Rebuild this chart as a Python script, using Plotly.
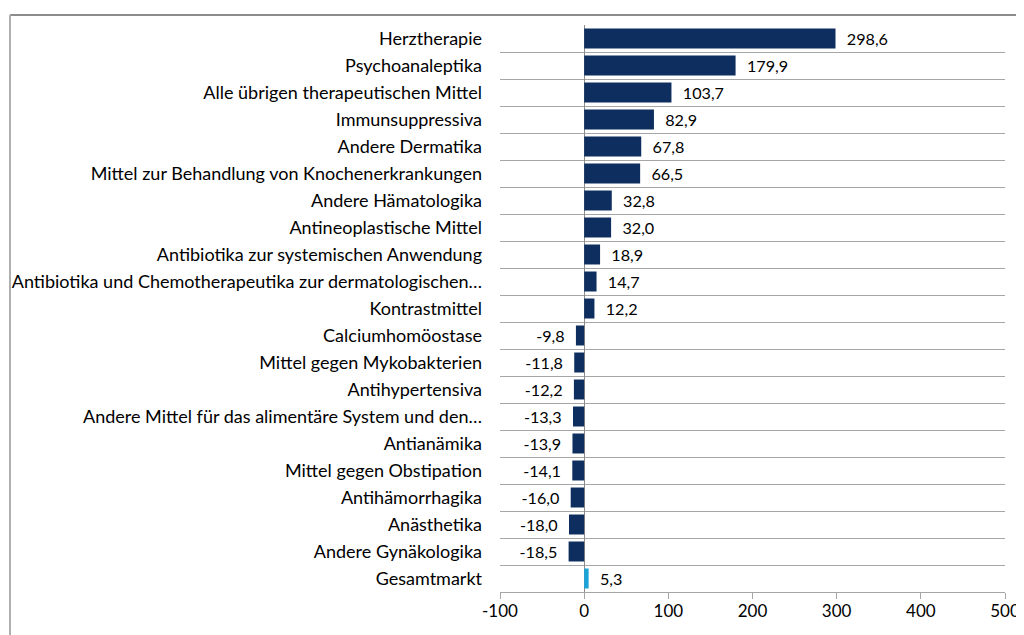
import plotly.graph_objects as go

categories = [
    "Herztherapie",
    "Psychoanaleptika",
    "Alle übrigen therapeutischen Mittel",
    "Immunsuppressiva",
    "Andere Dermatika",
    "Mittel zur Behandlung von Knochenerkrankungen",
    "Andere Hämatologika",
    "Antineoplastische Mittel",
    "Antibiotika zur systemischen Anwendung",
    "Antibiotika und Chemotherapeutika zur dermatologischen…",
    "Kontrastmittel",
    "Calciumhomöostase",
    "Mittel gegen Mykobakterien",
    "Antihypertensiva",
    "Andere Mittel für das alimentäre System und den…",
    "Antianämika",
    "Mittel gegen Obstipation",
    "Antihämorrhagika",
    "Anästhetika",
    "Andere Gynäkologika",
    "Gesamtmarkt",
]
values = [298.6, 179.9, 103.7, 82.9, 67.8, 66.5, 32.8, 32.0, 18.9, 14.7, 12.2,
          -9.8, -11.8, -12.2, -13.3, -13.9, -14.1, -16.0, -18.0, -18.5, 5.3]
x_ticks = [-100, 0, 100, 200, 300, 400, 500]
x_tick_labels = ["-100", "0", "100", "200", "300", "400", "500"]

NAVY = "#0D2E5E"
LIGHT = "#1AA3D6"
colors = [LIGHT if c == "Gesamtmarkt" else NAVY for c in categories]
NB = "\u00a0"
labels = [
    (NB * 2 + f"{v:.1f}".replace(".", ",")) if v >= 0
    else (f"{v:.1f}".replace(".", ",") + NB * 2)
    for v in values
]

FONT = "Lato"
FS = 17

fig = go.Figure(go.Bar(
    x=values, y=categories, orientation="h",
    marker=dict(color=colors, line=dict(width=0)),
    text=labels, textposition="outside", cliponaxis=False,
    textfont=dict(family=FONT, size=FS, color="#000000"),
))

fig.update_layout(
    width=1024, height=635,
    margin=dict(l=492, r=27, t=17, b=51, autoexpand=False),
    paper_bgcolor="white", plot_bgcolor="white",
    bargap=0.26, showlegend=False,
    font=dict(family=FONT, size=FS, color="#000000"),
    shapes=[
        dict(type="line", xref="paper", yref="paper",
             x0=-490/505, x1=1.1, y0=1 + 10/567, y1=1 + 10/567,
             line=dict(color="#8c8c8c", width=2)),
        dict(type="line", xref="paper", yref="paper",
             x0=-490/505, x1=-490/505, y0=-0.2, y1=1 + 10/567,
             line=dict(color="#b0b0b0", width=2)),
    ],
)
fig.update_xaxes(
    range=[-100, 500], tickvals=x_ticks, ticktext=x_tick_labels,
    showgrid=False, zeroline=True, zerolinecolor="#8c8c8c", zerolinewidth=1,
    showline=True, linecolor="#a6a6a6", linewidth=1,
    ticks="outside", ticklen=6, tickcolor="#a6a6a6",
    ticklabelstandoff=-2, automargin=False,
    tickfont=dict(family=FONT, size=FS, color="#000000"),
)
fig.update_yaxes(
    autorange="reversed", type="category",
    tickson="boundaries", showgrid=True, gridcolor="#a6a6a6", gridwidth=1,
    ticks="", showline=False, zeroline=False,
    ticklabelstandoff=17, automargin=False,
    tickfont=dict(family=FONT, size=18, color="#000000"),
)

fig.write_html("out.html")
